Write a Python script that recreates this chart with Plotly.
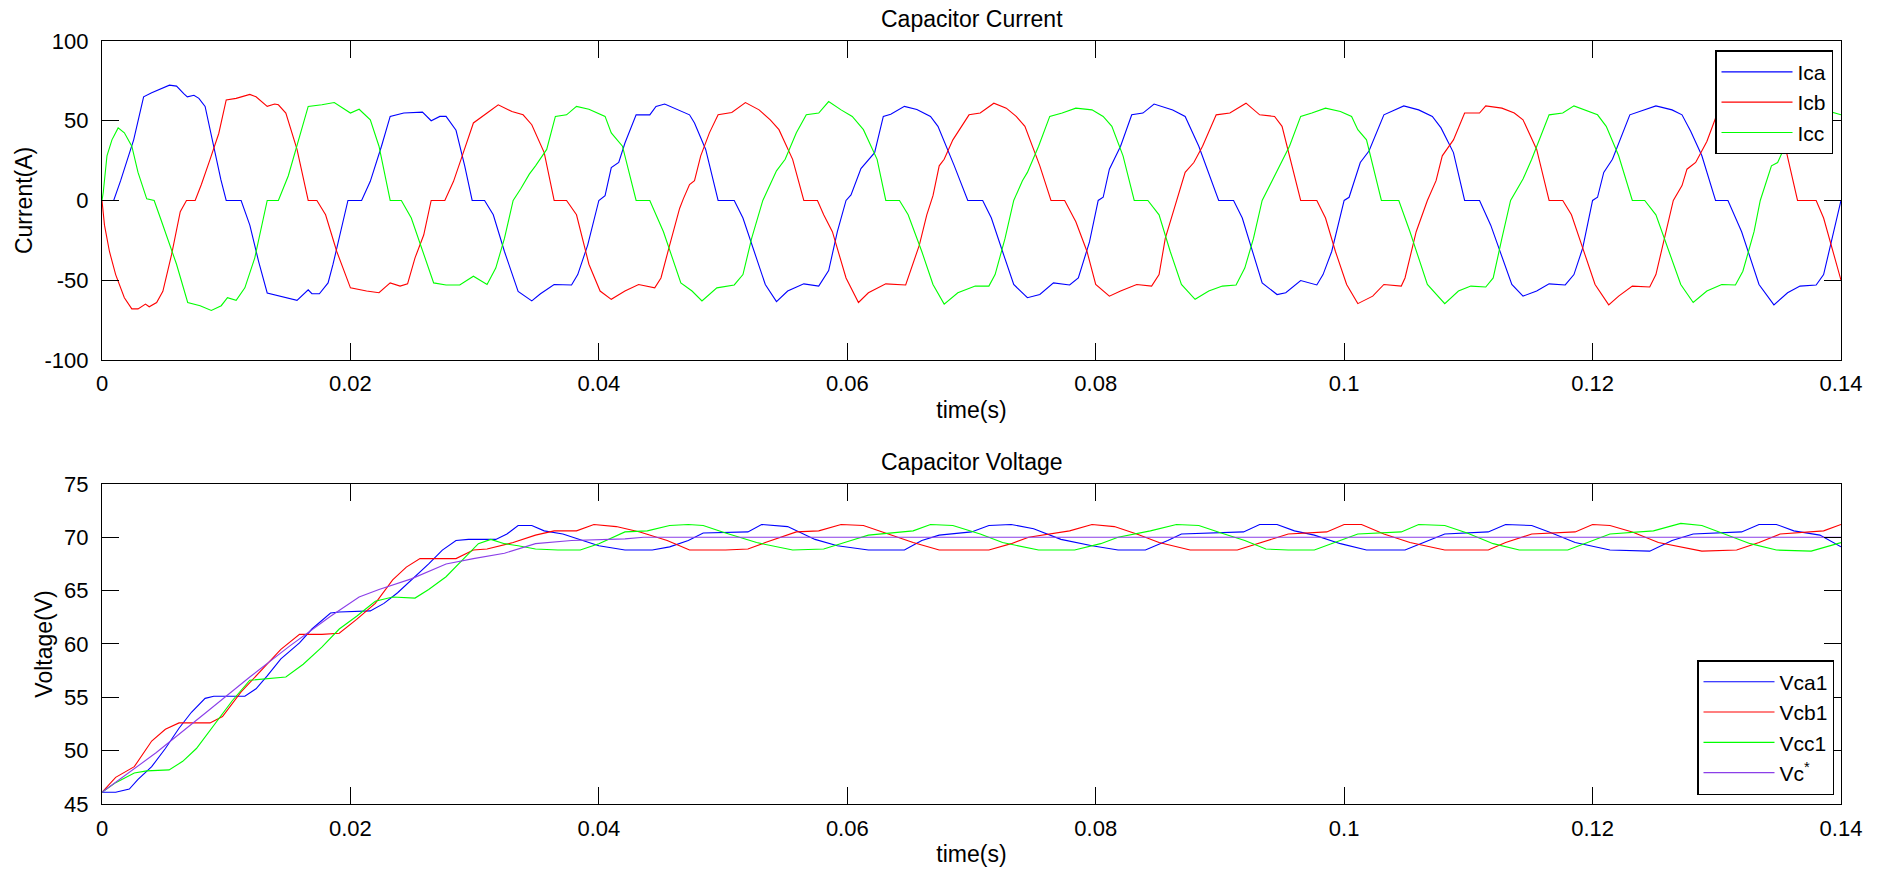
import plotly.graph_objects as go

# ---------------- data ----------------
x_tickvals = [0, 0.02, 0.04, 0.06, 0.08, 0.1, 0.12, 0.14]
x_ticktext = ["0", "0.02", "0.04", "0.06", "0.08", "0.1", "0.12", "0.14"]
i_tickvals = [-100, -50, 0, 50, 100]
i_ticktext = ["-100", "-50", "0", "50", "100"]
v_tickvals = [45, 50, 55, 60, 65, 70, 75]
v_ticktext = ["45", "50", "55", "60", "65", "70", "75"]

ica_t = [0, 0.00094, 0.0015, 0.00255, 0.00335, 0.004, 0.00543, 0.006, 0.00658, 0.00687, 0.0074, 0.0078, 0.0083,
         0.009, 0.00957, 0.0100, 0.0112, 0.0119, 0.0126, 0.0133, 0.0144, 0.0157, 0.0166, 0.0169, 0.0175, 0.0182,
         0.0186, 0.0191, 0.0198, 0.0209, 0.0216, 0.0225, 0.0232, 0.0243, 0.0258, 0.0265, 0.0272, 0.0277, 0.0285,
         0.0292, 0.0298, 0.0308, 0.0315, 0.0324, 0.0335, 0.0346, 0.0353, 0.0364, 0.0378, 0.0383, 0.0391, 0.0400,
         0.0405, 0.0410, 0.0416, 0.0421, 0.0430, 0.0441, 0.0446, 0.0453, 0.0460, 0.0468, 0.0473, 0.0477, 0.0486,
         0.0496, 0.0509, 0.0516, 0.0525, 0.0534, 0.0543, 0.0552, 0.0565, 0.0577, 0.0585, 0.0592, 0.0599, 0.0603,
         0.0611, 0.0622, 0.0629, 0.0635, 0.0646, 0.0656, 0.0667, 0.0673, 0.0686, 0.0697, 0.0709, 0.0716, 0.0725,
         0.0734, 0.0745, 0.0755, 0.0766, 0.0779, 0.0786, 0.0795, 0.0802, 0.0806, 0.0811, 0.0820, 0.0829, 0.0838,
         0.0847, 0.0862, 0.0872, 0.0883, 0.0899, 0.0911, 0.0918, 0.0934, 0.0946, 0.0953, 0.0965, 0.0978, 0.0983,
         0.0990, 0.1000, 0.1004, 0.1013, 0.1020, 0.1032, 0.1048, 0.1060, 0.1071, 0.1078, 0.1088, 0.1097, 0.1109,
         0.1118, 0.1135, 0.1144, 0.1155, 0.1165, 0.1178, 0.1185, 0.1192, 0.1200, 0.1204, 0.1209, 0.1216, 0.1230,
         0.1251, 0.1264, 0.1272, 0.1279, 0.1288, 0.1299, 0.1309, 0.1320, 0.1334, 0.1346, 0.1357, 0.1367, 0.1380,
         0.1386, 0.1393, 0.1400]
ica_v = [0, 0, 12.4, 38, 65, 67.6, 72.3, 71.7, 67, 65, 66, 64, 59,
         34, 13, 0, 0, -15.5, -38, -58, -60, -62.6, -56, -58.5, -58.5, -51.7,
         -40, -24, 0, 0, 12, 34, 52.7, 54.8, 55.4, 50, 52.7, 52.7, 44,
         21.7, 0, 0, -9, -32, -57, -63, -58.5, -52.7, -53, -46.5, -28, 0,
         3, 20.6, 23.8, 36, 53.7, 53.7, 59, 60.5, 58, 55, 53.7, 48.6, 32,
         0, 0, -11, -32, -52.7, -63.4, -56.8, -52.3, -53.7, -44, -19.6, 0, 3.5,
         20, 30, 52.7, 54, 59, 57, 52.7, 46.5, 22, 0, 0, -11, -32,
         -52.7, -61, -59, -51.7, -53, -48.6, -26, 0, 2, 19.6, 34, 53.7, 54.8,
         60.5, 56.8, 52.7, 34, 0, 0, -11, -51.7, -59, -57.9, -50.2, -53, -46.5,
         -32, 0, 2, 23.8, 31, 53.7, 59.3, 56.8, 52.7, 45.5, 30, 0, 0,
         -15.5, -52.7, -60, -56.8, -52.3, -53, -46.5, -30, 0, 2, 17.6, 25.8, 53.7,
         59.3, 56.8, 53.7, 43.4, 28, 0, 0, -19.6, -52.7, -65.5, -57.9, -53.7, -53,
         -46.5, -23.8, 0]

icb_t = [0, 0.0002, 0.0006, 0.0011, 0.0018, 0.0024, 0.0029, 0.0035, 0.0038, 0.0044, 0.0049, 0.0056, 0.0063,
         0.0068, 0.0075, 0.0080, 0.0087, 0.0094, 0.0100, 0.0108, 0.0119, 0.0124, 0.0133, 0.0139, 0.0142, 0.0148,
         0.0157, 0.0166, 0.0173, 0.0180, 0.0189, 0.0200, 0.0213, 0.0223, 0.0232, 0.0240, 0.0246, 0.0252, 0.0259,
         0.0265, 0.0276, 0.0283, 0.0290, 0.0299, 0.0310, 0.0319, 0.0330, 0.0339, 0.0346, 0.0356, 0.0364, 0.0374,
         0.0382, 0.0392, 0.0401, 0.0410, 0.0421, 0.0432, 0.0445, 0.0450, 0.0457, 0.0465, 0.0468, 0.0473, 0.0477,
         0.0482, 0.0489, 0.0496, 0.0507, 0.0518, 0.0529, 0.0538, 0.0545, 0.0556, 0.0565, 0.0576, 0.0581, 0.0588,
         0.0599, 0.0609, 0.0617, 0.0631, 0.0647, 0.0653, 0.0658, 0.0664, 0.0669, 0.0674, 0.0678, 0.0685, 0.0698,
         0.0707, 0.0718, 0.0728, 0.0736, 0.0743, 0.0755, 0.0764, 0.0775, 0.0784, 0.0793, 0.0800, 0.0811, 0.0820,
         0.0833, 0.0845, 0.0851, 0.0856, 0.0865, 0.0872, 0.0879, 0.0886, 0.0897, 0.0908, 0.0921, 0.0932, 0.0944,
         0.0950, 0.0965, 0.0978, 0.0985, 0.0993, 0.1002, 0.1011, 0.1023, 0.1032, 0.1046, 0.1049, 0.1058, 0.1067,
         0.1074, 0.1079, 0.1088, 0.1097, 0.1109, 0.1114, 0.1127, 0.1137, 0.1144, 0.1155, 0.1165, 0.1176, 0.1183,
         0.1193, 0.1202, 0.1213, 0.1221, 0.1232, 0.1246, 0.1251, 0.1258, 0.1265, 0.1272, 0.1276, 0.1283, 0.1292,
         0.1300, 0.1310, 0.1318, 0.1330, 0.1342, 0.1348, 0.1355, 0.1365, 0.1380, 0.1386, 0.1400]
icb_v = [0, -15.5, -32, -46.5, -61, -68, -68, -65, -66.7, -64, -57, -34, -7,
         0, 0, 10, 25.8, 42, 63, 64, 66.5, 65, 59, 60.5, 60, 54.8,
         32, 0, 0, -9, -32, -54.8, -56.8, -57.9, -51.7, -53.7, -52.3, -36, -21.7,
         0, 0, 12, 28, 48.6, 54.8, 60, 55.8, 53.7, 47.5, 30, 0, 0,
         -9, -40, -56.8, -62, -56.8, -52.7, -54.8, -48.6, -28, -5, 1, 10, 12.4,
         28, 42.4, 53.7, 55.2, 61.4, 56.8, 50.6, 44.4, 25.8, 0, 0, -9, -19.6,
         -48.6, -64, -57.9, -52.3, -53, -40, -28, -9, 3, 21.7, 25.8, 38, 53.7,
         54.8, 61, 57.9, 52.7, 46.5, 21.7, 0, 0, -13.4, -32, -52.7, -60, -56.8,
         -52.7, -53.7, -46.5, -23.8, 0, 17.6, 23.8, 34, 53.7, 54.8, 61, 53.7, 52.7,
         46.5, 0, 0, -11, -32, -52.7, -64.7, -60, -52.7, -53.7, -48.6, -19.6, 0,
         12.4, 28, 38, 54.8, 54.8, 59.3, 57.9, 54.8, 50.6, 32, 0, 0, -9,
         -32, -52.7, -65.5, -60, -53.7, -54.3, -46.5, -23.8, 0, 9.3, 19.6, 23.8, 37,
         53.7, 55, 59, 56, 52, 45, 34, 0, 0, -11, -50]

icc_t = [0, 0.0001, 0.0004, 0.0008, 0.0013, 0.0018, 0.0024, 0.0029, 0.0036, 0.0042, 0.0047, 0.0053, 0.0060,
         0.0069, 0.0079, 0.0088, 0.0096, 0.0101, 0.0108, 0.0115, 0.0123, 0.0133, 0.0142, 0.0150, 0.0157, 0.0166,
         0.0177, 0.0187, 0.0200, 0.0207, 0.0216, 0.0223, 0.0232, 0.0241, 0.0249, 0.0258, 0.0267, 0.0277, 0.0288,
         0.0299, 0.0310, 0.0317, 0.0324, 0.0331, 0.0337, 0.0344, 0.0349, 0.0358, 0.0365, 0.0374, 0.0382, 0.0392,
         0.0405, 0.0410, 0.0419, 0.0430, 0.0441, 0.0452, 0.0466, 0.0475, 0.0483, 0.0495, 0.0509, 0.0516, 0.0523,
         0.0532, 0.0543, 0.0550, 0.0559, 0.0567, 0.0577, 0.0585, 0.0595, 0.0604, 0.0613, 0.0624, 0.0631, 0.0642,
         0.0649, 0.0660, 0.0669, 0.0678, 0.0689, 0.0703, 0.0714, 0.0719, 0.0727, 0.0734, 0.0741, 0.0745, 0.0754,
         0.0763, 0.0773, 0.0784, 0.0797, 0.0806, 0.0813, 0.0822, 0.0831, 0.0842, 0.0851, 0.0860, 0.0869, 0.0880,
         0.0891, 0.0902, 0.0913, 0.0920, 0.0927, 0.0934, 0.0942, 0.0948, 0.0956, 0.0965, 0.0974, 0.0985, 0.0997,
         0.1006, 0.1011, 0.1018, 0.1030, 0.1044, 0.1053, 0.1067, 0.1081, 0.1092, 0.1102, 0.1114, 0.1120, 0.1127,
         0.1134, 0.1144, 0.1151, 0.1165, 0.1176, 0.1185, 0.1193, 0.1204, 0.1211, 0.1221, 0.1232, 0.1242, 0.1251,
         0.1264, 0.1271, 0.1281, 0.1292, 0.1304, 0.1315, 0.1321, 0.1330, 0.1335, 0.1344, 0.1349, 0.1356, 0.1365,
         0.1375, 0.1390, 0.1400]
icc_v = [0, 5, 28, 38, 45.5, 42.4, 34, 17.6, 1, 0, -11, -23.8, -40,
         -64, -66, -69, -66, -61, -62.6, -54.8, -36, 0, 0, 15.5, 34, 59,
         60, 61.4, 54.8, 57.2, 50.6, 34, 0, 0, -11, -32, -51.7, -53, -53,
         -47.5, -52.7, -42.4, -23.8, 0, 7.2, 16.5, 21.7, 32, 52.7, 53.7, 59, 57.2,
         52.7, 42.4, 34, 0, 0, -19.6, -51.7, -56.8, -63, -54.8, -53, -46.5, -23.8,
         0, 18.6, 25.8, 42.4, 53.7, 54.8, 62, 56.8, 52.7, 44.4, 25.8, 0, 0,
         -9, -32, -52.7, -65, -57.9, -53.7, -53.7, -46.5, -23.8, 0, 12.4, 17.6, 34,
         52.7, 54.8, 57.9, 56.8, 52.7, 46.5, 28, 0, 0, -9, -32, -52.7, -62,
         -56.8, -53.7, -53, -42.4, -23.8, 0, 12.4, 21.7, 34, 52.7, 54.8, 57.9, 55.8,
         52.7, 44.4, 38, 0, 0, -19.6, -52.7, -64.7, -56.8, -53.7, -54.3, -48.6, -23.8,
         0, 13.4, 25.8, 53.7, 54.8, 59.3, 56.8, 53.7, 46.5, 28, 0, 0, -9,
         -38, -52.7, -64, -56.8, -52.7, -53, -44.4, -19.6, 0, 21.7, 23.8, 36, 50,
         54, 56, 53.7]

vca_t = [0, 0.0011, 0.0022, 0.0029, 0.0040, 0.0051, 0.0062, 0.0072, 0.0083, 0.0090, 0.0115, 0.0124, 0.0133,
         0.0144, 0.0159, 0.0169, 0.0184, 0.0191, 0.0216, 0.0227, 0.0238, 0.0252, 0.0263, 0.0274, 0.0285, 0.0295,
         0.0317, 0.0326, 0.0335, 0.0346, 0.0356, 0.0371, 0.0385, 0.0400, 0.0421, 0.0443, 0.0457, 0.0472, 0.0484,
         0.0520, 0.0531, 0.0552, 0.0574, 0.0592, 0.0617, 0.0646, 0.0660, 0.0674, 0.0700, 0.0714, 0.0732, 0.0750,
         0.0772, 0.0797, 0.0818, 0.0840, 0.0858, 0.0869, 0.0919, 0.0932, 0.0946, 0.0960, 0.0976, 0.0997, 0.1018,
         0.1049, 0.1064, 0.1081, 0.1116, 0.1130, 0.1151, 0.1165, 0.1186, 0.1214, 0.1246, 0.1264, 0.1281, 0.1320,
         0.1334, 0.1348, 0.1362, 0.1383, 0.1400]
vca_v = [46.1, 46.1, 46.4, 47.3, 48.5, 50.2, 52.1, 53.6, 54.9, 55.1, 55.1, 55.8, 57.0,
         58.6, 60.1, 61.4, 62.9, 63.0, 63.1, 63.8, 64.8, 66.3, 67.5, 68.8, 69.7, 69.8,
         69.8, 70.3, 71.1, 71.1, 70.6, 70.3, 69.8, 69.2, 68.8, 68.8, 69.1, 69.7, 70.4,
         70.5, 71.2, 71.0, 69.8, 69.2, 68.8, 68.8, 69.7, 70.2, 70.5, 71.1, 71.2, 70.8,
         69.8, 69.2, 68.8, 68.8, 69.7, 70.3, 70.5, 71.2, 71.2, 70.6, 70.2, 69.4, 68.8,
         68.8, 69.5, 70.3, 70.5, 71.2, 71.1, 70.5, 69.5, 68.8, 68.7, 69.7, 70.3, 70.5,
         71.2, 71.2, 70.6, 70.2, 69.1]

vcb_t = [0, 0.0011, 0.0026, 0.0040, 0.0051, 0.0062, 0.0087, 0.0097, 0.0112, 0.0130, 0.0144, 0.0159, 0.0177,
         0.0191, 0.0205, 0.0220, 0.0234, 0.0245, 0.0256, 0.0285, 0.0299, 0.0310, 0.0331, 0.0349, 0.0364, 0.0382,
         0.0396, 0.0414, 0.0433, 0.0455, 0.0473, 0.0502, 0.0520, 0.0534, 0.0559, 0.0577, 0.0595, 0.0613, 0.0628,
         0.0653, 0.0674, 0.0714, 0.0732, 0.0746, 0.0779, 0.0797, 0.0815, 0.0833, 0.0851, 0.0876, 0.0914, 0.0934,
         0.0955, 0.0986, 0.1000, 0.1014, 0.1032, 0.1053, 0.1081, 0.1116, 0.1130, 0.1151, 0.1186, 0.1200, 0.1214,
         0.1232, 0.1253, 0.1288, 0.1316, 0.1334, 0.1351, 0.1386, 0.1400]
vcb_v = [46.1, 47.5, 48.5, 50.9, 52.0, 52.6, 52.6, 53.2, 55.5, 57.7, 59.5, 60.9, 60.9,
         61.0, 62.3, 63.8, 66.0, 67.2, 68.0, 68.0, 68.8, 68.9, 69.5, 70.2, 70.6, 70.6,
         71.2, 71.0, 70.5, 69.7, 68.8, 68.8, 68.9, 69.5, 70.5, 70.6, 71.2, 71.1, 70.5,
         69.5, 68.8, 68.8, 69.4, 70.0, 70.6, 71.2, 71.0, 70.3, 69.5, 68.8, 68.8, 69.5,
         70.3, 70.5, 71.2, 71.2, 70.3, 69.5, 68.8, 68.8, 69.5, 70.3, 70.5, 71.2, 71.1,
         70.5, 69.5, 68.7, 68.8, 69.5, 70.3, 70.6, 71.2]

vcc_t = [0, 0.0011, 0.0026, 0.0036, 0.0054, 0.0065, 0.0076, 0.0090, 0.0105, 0.0119, 0.0130, 0.0148, 0.0162,
         0.0177, 0.0191, 0.0205, 0.0220, 0.0234, 0.0252, 0.0263, 0.0277, 0.0292, 0.0303, 0.0313, 0.0324, 0.0335,
         0.0349, 0.0367, 0.0385, 0.0400, 0.0421, 0.0439, 0.0457, 0.0472, 0.0484, 0.0502, 0.0527, 0.0556, 0.0581,
         0.0603, 0.0617, 0.0653, 0.0667, 0.0685, 0.0707, 0.0725, 0.0754, 0.0783, 0.0804, 0.0818, 0.0844, 0.0865,
         0.0883, 0.0901, 0.0920, 0.0937, 0.0955, 0.0976, 0.0990, 0.1011, 0.1046, 0.1060, 0.1081, 0.1099, 0.1120,
         0.1141, 0.1180, 0.1193, 0.1214, 0.1249, 0.1271, 0.1288, 0.1306, 0.1327, 0.1348, 0.1376, 0.1400]
vcc_v = [46.1, 47.0, 47.9, 48.1, 48.2, 49.0, 50.2, 52.4, 54.7, 56.6, 56.7, 56.9, 58.1,
         59.7, 61.4, 62.6, 64.0, 64.4, 64.3, 65.1, 66.3, 68.1, 69.4, 69.8, 69.4, 69.2,
         68.9, 68.8, 68.8, 69.4, 70.5, 70.6, 71.1, 71.2, 71.1, 70.4, 69.5, 68.8, 68.9,
         69.7, 70.2, 70.6, 71.2, 71.1, 70.3, 69.5, 68.8, 68.8, 69.4, 70.0, 70.6, 71.2,
         71.1, 70.4, 69.7, 68.9, 68.8, 68.8, 69.4, 70.3, 70.5, 71.2, 71.1, 70.4, 69.4,
         68.8, 68.8, 69.4, 70.3, 70.6, 71.3, 71.1, 70.3, 69.4, 68.8, 68.7, 69.5]

vref_t = [0, 0.00435, 0.0083, 0.0119, 0.0151, 0.0184, 0.0207, 0.0223, 0.0249, 0.0277, 0.0299, 0.0324, 0.0349,
          0.0378, 0.0421, 0.0436, 0.1400]
vref_v = [46.1, 49.8, 53.5, 56.9, 59.8, 62.6, 64.4, 65.1, 66.1, 67.5, 68.0, 68.5, 69.4,
          69.7, 69.85, 70.0, 70.0]

# ---------------- styling ----------------
W, H = 1883, 875
FONT = "Liberation Sans, Arial, Helvetica, sans-serif"
BLUE, RED, GREEN, PURPLE = "#0000FF", "#FF0000", "#00FF00", "#8B3FE8"
LW = 1.1

fig = go.Figure()
top = [("Ica", ica_t, ica_v, BLUE), ("Icb", icb_t, icb_v, RED), ("Icc", icc_t, icc_v, GREEN)]
for name, t, v, c in top:
    fig.add_trace(go.Scatter(x=t, y=v, name=name, mode="lines", line=dict(color=c, width=LW),
                             xaxis="x", yaxis="y", legend="legend"))
bot = [("Vca1", vca_t, vca_v, BLUE), ("Vcb1", vcb_t, vcb_v, RED), ("Vcc1", vcc_t, vcc_v, GREEN),
       ("Vc<sup>*</sup>", vref_t, vref_v, PURPLE)]
for name, t, v, c in bot:
    fig.add_trace(go.Scatter(x=t, y=v, name=name, mode="lines", line=dict(color=c, width=LW),
                             xaxis="x2", yaxis="y2", legend="legend2"))

# pixel geometry of the axes boxes
L, R, T, B = 101.7, 1841.0, 40.7, 813.0
ph = B - T


def py(p):
    return (B - p) / ph


axis_common = dict(showline=True, linecolor="black", linewidth=1.3, mirror="ticks",
                   ticks="inside", ticklen=17, tickwidth=1, tickcolor="black",
                   showgrid=False, zeroline=False,
                   tickfont=dict(family=FONT, size=22, color="black"))
xcommon = dict(axis_common, range=[0, 0.14], tickvals=x_tickvals, ticktext=x_ticktext,
               title=dict(text="time(s)", font=dict(family=FONT, size=23, color="black"), standoff=6),
               ticklabelstandoff=4)
legend_common = dict(bgcolor="white", bordercolor="black", borderwidth=1.5, itemwidth=71,
                     font=dict(family=FONT, size=21, color="black"), tracegroupgap=0)

fig.update_layout(
    width=W, height=H,
    margin=dict(l=L, r=W - R, t=T, b=H - B, pad=0),
    paper_bgcolor="white", plot_bgcolor="white",
    font=dict(family=FONT, color="black"),
    xaxis=dict(xcommon, domain=[0, 1], anchor="y"),
    yaxis=dict(axis_common, domain=[py(363.5), 1], range=[-100, 100], tickvals=i_tickvals,
               ticktext=i_ticktext,
               title=dict(text="Current(A)", font=dict(family=FONT, size=23, color="black"), standoff=5),
               ticklabelstandoff=8),
    xaxis2=dict(xcommon, domain=[0, 1], anchor="y2"),
    yaxis2=dict(axis_common, domain=[0, py(489)], range=[45, 75], tickvals=v_tickvals,
                ticktext=v_ticktext,
                title=dict(text="Voltage(V)", font=dict(family=FONT, size=23, color="black"), standoff=4),
                ticklabelstandoff=8),
    legend=dict(legend_common, x=(1833 - L) / (R - L), y=py(50), xanchor="right", yanchor="top"),
    legend2=dict(legend_common, x=(1834 - L) / (R - L), y=py(804), xanchor="right", yanchor="bottom"),
    annotations=[
        dict(text="Capacitor Current", x=0.5, y=py(18), xref="paper", yref="paper",
             xanchor="center", yanchor="middle", showarrow=False,
             font=dict(family=FONT, size=23, color="black")),
        dict(text="Capacitor Voltage", x=0.5, y=py(467), xref="paper", yref="paper",
             xanchor="center", yanchor="middle", showarrow=False,
             font=dict(family=FONT, size=23, color="black")),
    ],
)

fig.write_html("out.html")
